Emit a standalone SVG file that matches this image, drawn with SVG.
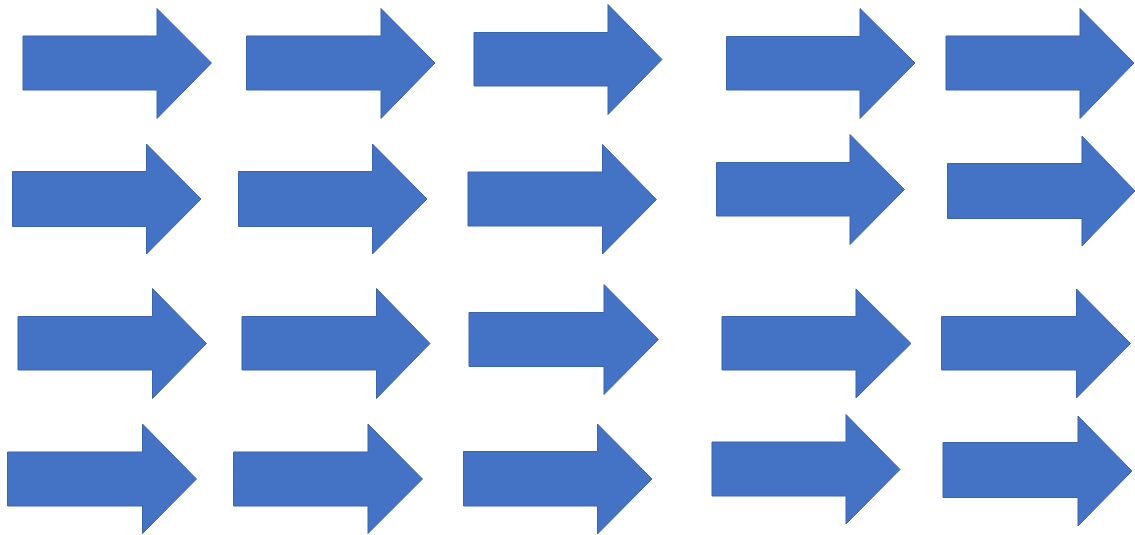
<svg xmlns="http://www.w3.org/2000/svg" width="1135" height="535" viewBox="0 0 1135 535">
<style>
.arrow{fill:#4472C4;stroke:#3B64AE;stroke-width:1;stroke-linejoin:miter}
</style>
<rect width="1135" height="535" fill="#ffffff"/>
<g id="arrow-r1-c1"><polygon class="arrow" points="23,36 157,36 157,8.5 211.5,63 157,118.5 157,90 23,90"/></g>
<g id="arrow-r1-c2"><polygon class="arrow" points="246.5,36 381,36 381,8.5 435,63 381,118.5 381,90 246.5,90"/></g>
<g id="arrow-r1-c3"><polygon class="arrow" points="474,32.5 608,32.5 608,4.5 662,59.5 608,114.5 608,86 474,86"/></g>
<g id="arrow-r1-c4"><polygon class="arrow" points="726.5,36.5 860,36.5 860,8.5 915,63 860,118.5 860,90 726.5,90"/></g>
<g id="arrow-r1-c5"><polygon class="arrow" points="946,36 1080,36 1080,8.5 1134,63 1080,118.5 1080,90 946,90"/></g>

<g id="arrow-r2-c1"><polygon class="arrow" points="12.5,171.5 146.5,171.5 146.5,144 201,199 146.5,254 146.5,226.5 12.5,226.5"/></g>
<g id="arrow-r2-c2"><polygon class="arrow" points="238.5,171.5 372.5,171.5 372.5,144 427,199 372.5,254 372.5,226.5 238.5,226.5"/></g>
<g id="arrow-r2-c3"><polygon class="arrow" points="468,172 602.5,172 602.5,144.5 656.5,199.5 602.5,254 602.5,226 468,226"/></g>
<g id="arrow-r2-c4"><polygon class="arrow" points="716.5,162.5 850,162.5 850,134.5 904.5,189.5 850,244.5 850,216 716.5,216"/></g>
<g id="arrow-r2-c5"><polygon class="arrow" points="947.5,163.5 1082,163.5 1082,136 1135,191 1082,246 1082,218.5 947.5,218.5"/></g>

<g id="arrow-r3-c1"><polygon class="arrow" points="18,316.5 152.5,316.5 152.5,288.5 206.5,343.5 152.5,398.5 152.5,370 18,370"/></g>
<g id="arrow-r3-c2"><polygon class="arrow" points="242,316.5 376.5,316.5 376.5,288.5 430,343.5 376.5,398.5 376.5,370 242,370"/></g>
<g id="arrow-r3-c3"><polygon class="arrow" points="469,312.5 604,312.5 604,284.5 658.5,339.5 604,394.5 604,366.5 469,366.5"/></g>
<g id="arrow-r3-c4"><polygon class="arrow" points="722,316.5 856,316.5 856,289 911,343.5 856,398 856,370 722,370"/></g>
<g id="arrow-r3-c5"><polygon class="arrow" points="941.5,316.5 1076.5,316.5 1076.5,289 1130.5,343.5 1076.5,398 1076.5,370 941.5,370"/></g>

<g id="arrow-r4-c1"><polygon class="arrow" points="7.5,452 142.5,452 142.5,424 196.5,479 142.5,533.5 142.5,506 7.5,506"/></g>
<g id="arrow-r4-c2"><polygon class="arrow" points="233.5,452 368,452 368,424 422.5,479 368,533.5 368,506 233.5,506"/></g>
<g id="arrow-r4-c3"><polygon class="arrow" points="463.5,451.5 597.5,451.5 597.5,424 652,479 597.5,534 597.5,506 463.5,506"/></g>
<g id="arrow-r4-c4"><polygon class="arrow" points="712,442 846,442 846,414.5 900,469.5 846,524 846,496 712,496"/></g>
<g id="arrow-r4-c5"><polygon class="arrow" points="943,442.5 1078,442.5 1078,416 1132,471 1078,526 1078,497.5 943,497.5"/></g>
</svg>
